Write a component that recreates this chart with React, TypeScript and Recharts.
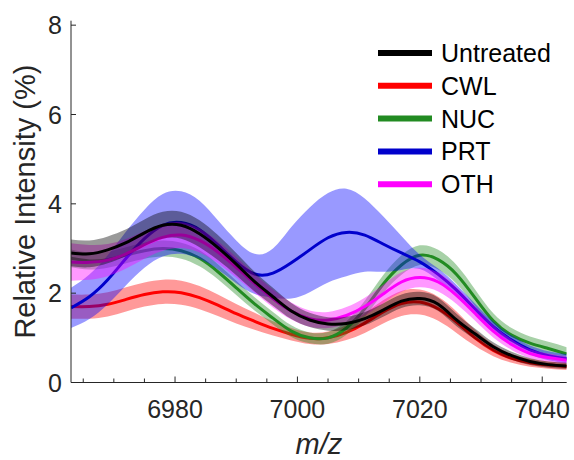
import React from "react";
import { ComposedChart, Area, XAxis, YAxis, Label } from "recharts";

// m/z sampling positions
const mz = [
  6963, 6966, 6969, 6972, 6975, 6978, 6981, 6984, 6987, 6990, 6993, 6996, 6999, 7002,
  7005, 7008, 7011, 7014, 7017, 7020, 7023, 7026, 7029, 7032, 7035, 7038, 7041, 7044,
];

// mean relative intensity (%) and band half-width per group
const untreated = [2.9, 2.88, 2.97, 3.13, 3.35, 3.52, 3.52, 3.33, 3.02, 2.65, 2.26, 1.92, 1.6, 1.4, 1.31, 1.32, 1.43, 1.62, 1.82, 1.88, 1.75, 1.4, 1.09, 0.8, 0.6, 0.47, 0.4, 0.37];
const untreatedSd = [0.3, 0.3, 0.3, 0.3, 0.3, 0.3, 0.3, 0.3, 0.28, 0.25, 0.22, 0.2, 0.18, 0.16, 0.15, 0.15, 0.15, 0.15, 0.15, 0.15, 0.15, 0.14, 0.12, 0.1, 0.09, 0.08, 0.07, 0.07];

const cwl = [1.7, 1.7, 1.75, 1.86, 1.97, 2.03, 2.01, 1.9, 1.73, 1.54, 1.37, 1.21, 1.08, 0.99, 1.0, 1.12, 1.33, 1.58, 1.77, 1.8, 1.65, 1.35, 1.0, 0.72, 0.54, 0.44, 0.39, 0.36];
const cwlSd = [0.27, 0.27, 0.27, 0.27, 0.27, 0.27, 0.27, 0.26, 0.24, 0.22, 0.19, 0.16, 0.14, 0.13, 0.14, 0.17, 0.22, 0.26, 0.28, 0.28, 0.27, 0.24, 0.18, 0.13, 0.1, 0.09, 0.08, 0.08];

const nuc = [2.78, 2.72, 2.75, 2.85, 2.95, 3.0, 2.95, 2.78, 2.48, 2.12, 1.76, 1.44, 1.15, 1.0, 1.0, 1.22, 1.65, 2.2, 2.63, 2.85, 2.75, 2.42, 1.9, 1.38, 1.06, 0.88, 0.76, 0.64];
const nucSd = [0.2, 0.19, 0.18, 0.18, 0.18, 0.18, 0.18, 0.18, 0.17, 0.16, 0.15, 0.14, 0.13, 0.12, 0.13, 0.15, 0.18, 0.2, 0.22, 0.22, 0.22, 0.21, 0.19, 0.17, 0.16, 0.15, 0.15, 0.15];

const prt = [1.67, 1.92, 2.3, 2.78, 3.22, 3.52, 3.58, 3.42, 3.08, 2.7, 2.43, 2.45, 2.68, 2.97, 3.24, 3.36, 3.3, 3.1, 2.9, 2.7, 2.42, 2.07, 1.65, 1.25, 0.95, 0.73, 0.6, 0.53];
const prtSd = [0.45, 0.5, 0.55, 0.6, 0.65, 0.7, 0.7, 0.65, 0.55, 0.48, 0.45, 0.55, 0.8, 0.95, 1.0, 0.98, 0.82, 0.62, 0.38, 0.16, 0.13, 0.12, 0.12, 0.11, 0.1, 0.1, 0.1, 0.1];

const oth = [2.7, 2.69, 2.74, 2.88, 3.08, 3.25, 3.3, 3.18, 2.92, 2.58, 2.22, 1.88, 1.6, 1.43, 1.4, 1.5, 1.7, 1.98, 2.25, 2.35, 2.25, 1.95, 1.55, 1.15, 0.85, 0.65, 0.56, 0.5];
const othSd = [0.42, 0.39, 0.36, 0.33, 0.31, 0.3, 0.29, 0.27, 0.25, 0.23, 0.21, 0.2, 0.19, 0.18, 0.18, 0.19, 0.2, 0.21, 0.22, 0.22, 0.21, 0.19, 0.16, 0.14, 0.12, 0.1, 0.09, 0.08];

const xTicks = [6965, 6970, 6975, 6980, 6985, 6990, 6995, 7000, 7005, 7010, 7015, 7020, 7025, 7030, 7035, 7040];
const xMajor = [6980, 7000, 7020, 7040];
const yTicks = [0, 2, 4, 6, 8];

const SERIES = [
  { key: "untreated", name: "Untreated", color: "#000000", fill: "#000000", mean: untreated, sd: untreatedSd },
  { key: "cwl", name: "CWL", color: "#FF0000", fill: "#FF0000", mean: cwl, sd: cwlSd },
  { key: "nuc", name: "NUC", color: "#228B22", fill: "#228B22", mean: nuc, sd: nucSd },
  { key: "prt", name: "PRT", color: "#0000CC", fill: "#0000FF", mean: prt, sd: prtSd },
  { key: "oth", name: "OTH", color: "#FF00FF", fill: "#FF00FF", mean: oth, sd: othSd },
];

// each group's band then its line, in this order (untreated ends on top)
const DRAW_ORDER = ["cwl", "nuc", "prt", "oth", "untreated"];

const data = mz.map((x, i) => {
  const row: Record<string, any> = { mz: x };
  SERIES.forEach((s) => {
    row[s.key] = s.mean[i];
    row[s.key + "Band"] = [s.mean[i] - s.sd[i], s.mean[i] + s.sd[i]];
  });
  return row;
});

const FONT = "'Liberation Sans', Arial, Helvetica, sans-serif";
const AXIS = "#262626";

const XTick = (props: any) => {
  const { x, y, payload } = props;
  const major = xMajor.includes(payload.value);
  return (
    <g>
      <line x1={x} x2={x} y1={y} y2={y - (major ? 6 : 4)} stroke={AXIS} strokeWidth={1} />
      {major && (
        <text x={x} y={y + 35.5} textAnchor="middle" fontSize={25} fontFamily={FONT} fill={AXIS}>
          {payload.value}
        </text>
      )}
    </g>
  );
};

const YTick = (props: any) => {
  const { x, y, payload } = props;
  return (
    <g>
      <line x1={x} x2={x + 5} y1={y} y2={y} stroke={AXIS} strokeWidth={1} />
      <text x={x - 9} y={y + 9} textAnchor="end" fontSize={25} fontFamily={FONT} fill={AXIS}>
        {payload.value}
      </text>
    </g>
  );
};

export default function App() {
  const byKey = Object.fromEntries(SERIES.map((s) => [s.key, s]));
  return (
    <div style={{ position: "absolute", left: 0, top: 0, width: 574, height: 460, background: "#fff" }}>
      <ComposedChart
        width={574}
        height={460}
        data={data}
        margin={{ top: 20.7, right: 7.3, bottom: 17.5, left: 0 }}
      >
        <XAxis
          dataKey="mz"
          type="number"
          domain={[6963, 7044]}
          ticks={xTicks}
          interval={0}
          allowDataOverflow
          height={60}
          tickSize={0}
          tickMargin={0}
          tickLine={false}
          axisLine={{ stroke: AXIS, strokeWidth: 1 }}
          tick={<XTick />}
        >
          <Label
            content={(p: any) => {
              const vb = p.viewBox;
              return (
                <text
                  x={vb.x + vb.width / 2}
                  y={vb.y + 71}
                  textAnchor="middle"
                  fontSize={29}
                  fontStyle="italic"
                  fontFamily={FONT}
                  fill={AXIS}
                >
                  m/z
                </text>
              );
            }}
          />
        </XAxis>
        <YAxis
          type="number"
          domain={[0, 8.1]}
          ticks={yTicks}
          interval={0}
          allowDataOverflow
          width={71}
          tickSize={0}
          tickMargin={0}
          tickLine={false}
          axisLine={{ stroke: AXIS, strokeWidth: 1 }}
          tick={<YTick />}
        >
          <Label
            content={(p: any) => {
              const vb = p.viewBox;
              const cx = 35;
              const cy = vb.y + vb.height / 2;
              return (
                <text
                  x={cx}
                  y={cy}
                  transform={`rotate(-90 ${cx} ${cy})`}
                  textAnchor="middle"
                  fontSize={29}
                  fontFamily={FONT}
                  fill={AXIS}
                >
                  Relative Intensity (%)
                </text>
              );
            }}
          />
        </YAxis>
        {DRAW_ORDER.flatMap((k) => {
          const s = byKey[k];
          return [
            <Area
              key={k + "-band"}
              type="natural"
              dataKey={k + "Band"}
              stroke="none"
              fill={s.fill}
              fillOpacity={0.4}
              isAnimationActive={false}
              activeDot={false}
            />,
            <Area
              key={k + "-line"}
              type="natural"
              dataKey={k}
              stroke={s.color}
              strokeWidth={3}
              fill="none"
              fillOpacity={0}
              dot={false}
              activeDot={false}
              isAnimationActive={false}
            />,
          ];
        })}
      </ComposedChart>
      <svg
        width={574}
        height={460}
        style={{ position: "absolute", left: 0, top: 0, pointerEvents: "none" }}
      >
        {SERIES.map((s, i) => {
          const cy = 53 + i * 32.8;
          return (
            <g key={s.key}>
              <line x1={378} x2={432} y1={cy} y2={cy} stroke={s.color} strokeWidth={6} />
              <text x={441} y={cy + 9} fontSize={25} fontFamily={FONT} fill="#000">
                {s.name}
              </text>
            </g>
          );
        })}
      </svg>
    </div>
  );
}
